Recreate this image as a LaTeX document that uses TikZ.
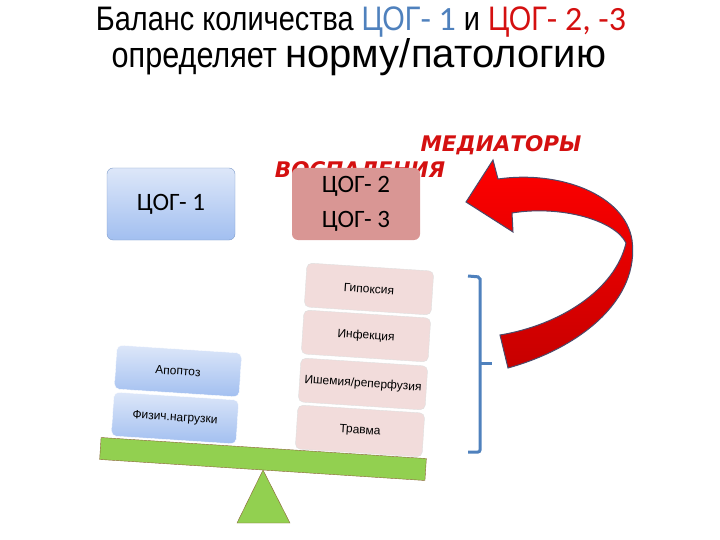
\documentclass[tikz,border=0pt]{standalone}
\usepackage{fontspec}
\setmainfont{Liberation Sans}
\newfontfamily\calfont{Carlito}
\newfontfamily\narrowfont[FakeStretch=0.85]{Liberation Sans}
\newfontfamily\medfont{DejaVu Sans}
\definecolor{cogblue}{HTML}{4F81BD}
\definecolor{cogred}{HTML}{D41010}
\definecolor{bluetop}{HTML}{DDE7F9}
\definecolor{bluebot}{HTML}{A2BFF0}
\definecolor{blueedge}{HTML}{7E9BC8}
\definecolor{pinkbox}{HTML}{F2DCDB}
\definecolor{rosebox}{HTML}{D99694}
\definecolor{plankgreen}{HTML}{92D050}
\definecolor{plankbrown}{HTML}{8C6239}
\definecolor{arrowedge}{HTML}{4A4A6A}
\begin{document}
\begin{tikzpicture}[x=1pt,y=-1pt,
    cogbox/.style={rounded corners=6pt,minimum width=128pt,minimum height=72pt,
      align=center,font=\calfont\fontsize{25}{35}\selectfont},
    leftblock/.style={rounded corners=5pt,draw=white,top color=bluetop,bottom color=bluebot,
      minimum width=125pt,minimum height=44pt,rotate=-3.7,font=\fontsize{12}{14}\selectfont},
    rightblock/.style={rounded corners=5pt,draw=gray!25,fill=pinkbox,
      minimum width=127pt,minimum height=44pt,rotate=-3.7,font=\fontsize{12}{14}\selectfont},
    mediator/.style={anchor=base,text=cogred,font=\medfont\bfseries\itshape\fontsize{21.5}{24}\selectfont}]
  \useasboundingbox (0,0) rectangle (720,540);

  % title
  \node[anchor=base] (title1) at (361,31) {\narrowfont\fontsize{34}{36}\selectfont Баланс количества
    \textcolor{cogblue}{ЦОГ{\calfont- 1}} и \textcolor{cogred}{ЦОГ{\calfont- 2, -3}}};
  \node[anchor=base] (title2) at (359,68) {\narrowfont\fontsize{36}{40}\selectfont определяет
    {\rmfamily\fontsize{40}{40}\selectfont норму/патологию}};

  % mediators
  \node[mediator] (med1) at (501,152) {МЕДИАТОРЫ};
  \node[mediator] (med2) at (360,178) {ВОСПАЛЕНИЯ};

  % COX boxes
  \node[cogbox,draw=blueedge,top color=bluetop,bottom color=bluebot] (cox1) at (171,204) {ЦОГ- 1};
  \node[cogbox,fill=rosebox] (cox23) at (356,204) {ЦОГ- 2\\ЦОГ- 3};

  % loads
  \node[leftblock] (load1) at (175,418) {Физич.нагрузки};
  \node[leftblock] (load2) at (178,371) {Апоптоз};
  \node[rightblock] (harm1) at (360,431) {Травма};
  \node[rightblock] (harm2) at (363,384) {Ишемия/реперфузия};
  \node[rightblock] (harm3) at (366,336) {Инфекция};
  \node[rightblock] (harm4) at (369,289) {Гипоксия};

  % scales
  \node[fill=plankgreen,draw=plankbrown,minimum width=326pt,minimum height=22pt,rotate=-3.7]
    (plank) at (263,459) {};
  \draw[fill=plankgreen,draw=plankbrown] (263,470) -- (290,523) -- (237,523) -- cycle;

  % bracket
  \draw[cogblue,line width=3pt,rounded corners=2pt] (468,276) -- (480,277) -- (480,452) -- (468,452);
  \draw[cogblue,line width=3pt] (480,363) -- (492,363);

  % curved arrow
  \shadedraw[top color=red,bottom color=red!78!black,draw=arrowedge,line width=1pt]
    (508,368) .. controls (580,348) and (640,300) .. (632,240)
    .. controls (625,195) and (560,170) .. (498,179)
    -- (493,160) -- (466,202) -- (513,232) -- (512,213)
    .. controls (560,205) and (615,220) .. (626,243)
    .. controls (615,290) and (560,325) .. (500,335) -- cycle;
\end{tikzpicture}
\end{document}
